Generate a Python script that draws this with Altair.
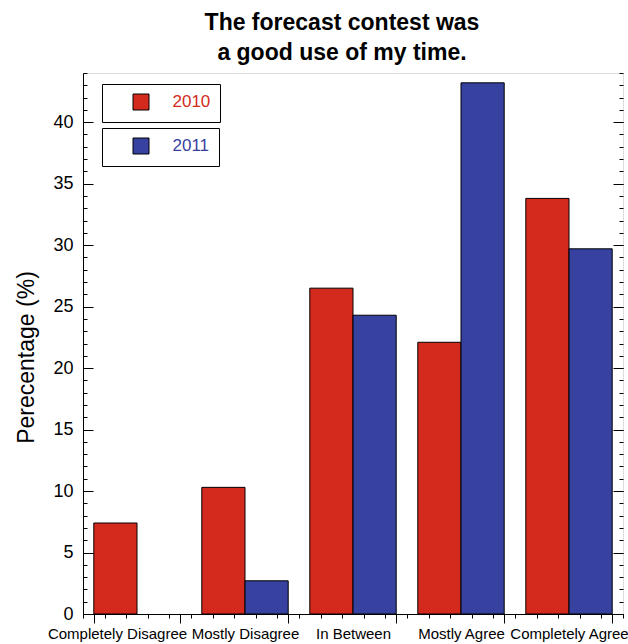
import altair as alt
import pandas as pd

# ---- data ----
categories = ["Completely Disagree", "Mostly Disagree", "In Between", "Mostly Agree", "Completely Agree"]
years = ["2010", "2011"]
values_2010 = [7.4, 10.3, 26.5, 22.1, 33.8]
values_2011 = [0.0, 2.7, 24.3, 43.2, 29.7]

y_major_ticks = [0, 5, 10, 15, 20, 25, 30, 35, 40]
y_minor_ticks = [0, 1, 2, 3, 4, 5, 6, 7, 8, 9, 10, 11, 12, 13, 14, 15, 16, 17, 18, 19, 20,
                 21, 22, 23, 24, 25, 26, 27, 28, 29, 30, 31, 32, 33, 34, 35, 36, 37, 38, 39, 40,
                 41, 42, 43, 44]
x_minor_ticks = [0, 0.2, 0.4, 0.6, 0.8, 1, 1.2, 1.4, 1.6, 1.8, 2, 2.2, 2.4, 2.6, 2.8, 3,
                 3.2, 3.4, 3.6, 3.8, 4, 4.2, 4.4, 4.6, 4.8, 5]

RED = "#D42A1E"
BLUE = "#3641A0"
FONT = "Liberation Sans"
W, H = 540, 541

rows = []
for c, v in zip(categories, values_2010):
    rows.append({"category": c, "year": "2010", "value": v})
for c, v in zip(categories, values_2011):
    rows.append({"category": c, "year": "2011", "value": v})
df = pd.DataFrame(rows)

yscale = alt.Scale(domain=[0, 44], nice=False, zero=True)
xscale = alt.Scale(domain=categories, paddingInner=0.2, paddingOuter=0.1)
xoff_scale = alt.Scale(domain=years, paddingInner=0, paddingOuter=0)

x_axis = alt.Axis(orient="bottom", labelAngle=0, tickBand="extent", tickSize=9, tickColor="black",
                  tickWidth=1, domainColor="black", labelFontSize=15, labelPadding=3,
                  labelColor="black", title=None, grid=False, labelFont=FONT,
                  labelOverlap=False,
                  labelOffset={"condition": {"test": "datum.value == 'Completely Disagree'",
                                             "value": -20}, "value": 0})


def legend_for(color, y):
    return alt.Legend(orient="none", legendX=19, legendY=y, title=None, strokeColor="black",
                      padding=9.5, symbolType="square", symbolSize=256, symbolStrokeColor="black",
                      symbolStrokeWidth=1, symbolOffset=21, labelFontSize=17, labelColor=color,
                      labelOffset=23, labelFont=FONT, cornerRadius=0)


bars2010 = alt.Chart(df).transform_filter(alt.datum.year == "2010").mark_bar(
    stroke="black", strokeWidth=1
).encode(
    x=alt.X("category:N", scale=xscale, axis=x_axis),
    xOffset=alt.XOffset("year:N", scale=xoff_scale),
    y=alt.Y("value:Q", scale=yscale,
            axis=alt.Axis(orient="left", values=y_major_ticks, ticks=False, domain=True,
                          domainColor="black", labelFontSize=18, labelPadding=10,
                          labelColor="black", grid=False, title="Perecentage (%)",
                          titleFontSize=23, titleFontWeight="normal", titlePadding=14,
                          titleY=284, titleColor="black", titleFont=FONT, labelFont=FONT)),
    color=alt.Color("year:N", scale=alt.Scale(domain=["2010"], range=[RED]),
                    legend=legend_for(RED, 11)),
)

bars2011 = alt.Chart(df).transform_filter(
    (alt.datum.year == "2011") & (alt.datum.value > 0)
).mark_bar(stroke="black", strokeWidth=1).encode(
    x=alt.X("category:N", scale=xscale, axis=x_axis),
    xOffset=alt.XOffset("year:N", scale=xoff_scale),
    y=alt.Y("value:Q", scale=yscale, axis=None),
    color=alt.Color("year:N", scale=alt.Scale(domain=["2011"], range=[BLUE]),
                    legend=legend_for(BLUE, 55)),
)


def ytick_layer(orient, values, size):
    return alt.Chart(df).mark_point(opacity=0).encode(
        y=alt.Y("value:Q", scale=yscale,
                axis=alt.Axis(orient=orient, offset=-W, values=values, tickSize=size,
                              tickColor="black", tickWidth=1, labels=False, domain=False,
                              grid=False, title=None))
    )


inner = alt.layer(
    bars2010, bars2011,
    ytick_layer("right", y_major_ticks, 10),
    ytick_layer("right", y_minor_ticks, 4),
    ytick_layer("left", y_major_ticks, 10),
    ytick_layer("left", y_minor_ticks, 4),
).resolve_scale(color="independent").resolve_legend(color="independent").resolve_axis(y="independent")

xminor = alt.Chart(pd.DataFrame({"t": x_minor_ticks})).mark_point(opacity=0).encode(
    x=alt.X("t:Q", scale=alt.Scale(domain=[0, 5], nice=False, zero=False),
            axis=alt.Axis(orient="bottom", values=x_minor_ticks, tickSize=4, tickColor="black",
                          tickWidth=1, labels=False, domain=False, grid=False, title=None))
)

chart = alt.layer(inner, xminor).resolve_scale(x="independent").properties(
    width=W, height=H,
    title=alt.TitleParams(text=["The forecast contest was", "a good use of my time."],
                          fontSize=23, fontWeight="bold", font=FONT, anchor="middle",
                          offset=8, dx=-11, lineHeight=30, color="black"),
    autosize=alt.AutoSizeParams(type="none"),
    padding={"left": 83, "top": 73, "right": 5, "bottom": 30},
).configure_view(stroke="black", strokeWidth=1).configure(font=FONT, background="white")

chart.save("out.html", embed_options={"renderer": "svg", "actions": False})
